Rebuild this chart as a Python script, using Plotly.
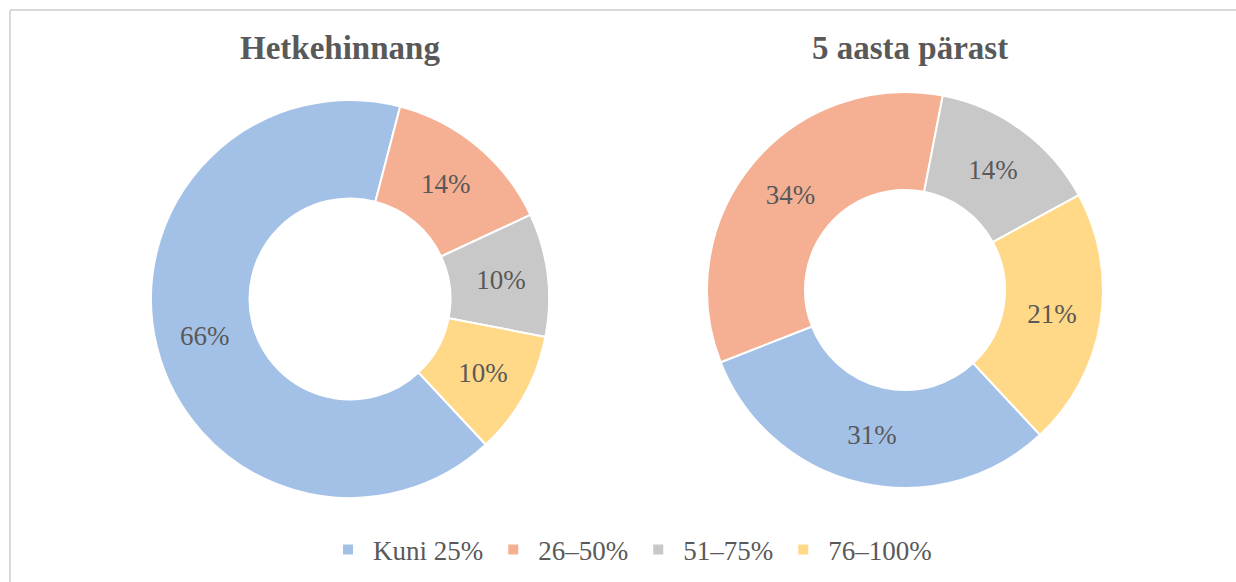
import plotly.graph_objects as go

W, H = 1236, 582

categories = ["Kuni 25%", "26–50%", "51–75%", "76–100%"]
values_now = [66, 14, 10, 10]
values_5y = [31, 34, 14, 21]
titles = ["Hetkehinnang", "5 aasta pärast"]
colors = ["#A3C1E7", "#F5B093", "#C8C8C8", "#FFD888"]

FONT = "Liberation Serif"
TXT = "#595959"


def px(x):
    return x / W


def py(y):
    return 1 - y / H


def dom(cx, cy, r):
    return dict(x=[px(cx - r), px(cx + r)], y=[py(cy + r), py(cy - r)])


fig = go.Figure()
for vals, d, show in [(values_now, dom(350, 299, 199), True), (values_5y, dom(905, 290, 198), False)]:
    fig.add_trace(go.Pie(
        labels=categories, values=vals, hole=0.505, sort=False, direction="clockwise",
        rotation=137, domain=d, showlegend=show,
        marker=dict(colors=colors, line=dict(color="white", width=2)),
        texttemplate="%{value}%", textposition="inside",
        insidetextorientation="horizontal",
        textfont=dict(family=FONT, size=27, color=TXT),
        hoverinfo="label+percent",
    ))

for t, x in zip(titles, [340, 910]):
    fig.add_annotation(text=f"<b>{t}</b>", x=px(x), y=py(48), xref="paper", yref="paper",
                       showarrow=False, xanchor="center", yanchor="middle",
                       font=dict(family=FONT, size=33, color=TXT))

fig.add_shape(type="line", xref="paper", yref="paper", x0=px(10), x1=1.01, y0=py(10), y1=py(10),
              line=dict(color="#D9D9D9", width=2))
fig.add_shape(type="line", xref="paper", yref="paper", x0=px(10), x1=px(10), y0=-0.01, y1=py(10),
              line=dict(color="#D9D9D9", width=2))

fig.update_layout(
    width=W, height=H, margin=dict(l=0, r=0, t=0, b=0),
    paper_bgcolor="white", plot_bgcolor="white",
    legend=dict(orientation="h", x=px(630), xanchor="center", y=py(550), yanchor="middle",
                font=dict(family=FONT, size=27, color=TXT), itemwidth=40, traceorder="normal"),
    uniformtext=dict(minsize=10),
)

fig.write_html("out.html", config={"displayModeBar": False},
               post_script="document.body.style.margin='0';document.body.style.overflow='hidden';")
